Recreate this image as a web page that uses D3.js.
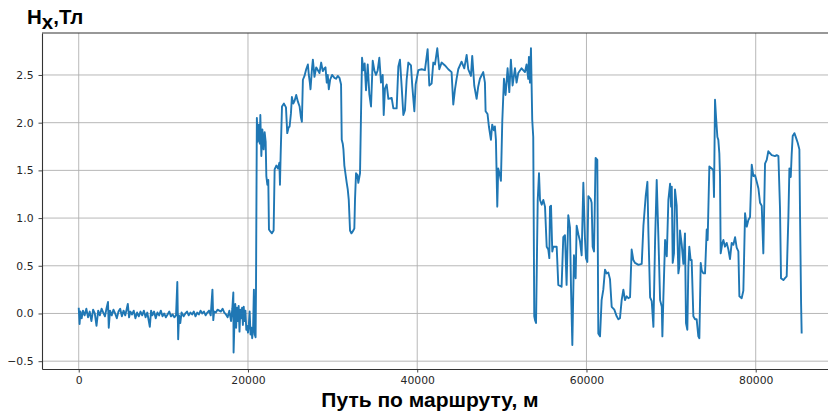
<!DOCTYPE html>
<html><head><meta charset="utf-8">
<script src="https://cdn.jsdelivr.net/npm/d3@7"></script>
<style>body{margin:0;background:#fff;overflow:hidden}</style>
</head><body>
<svg id="chart" width="828" height="414"></svg>
<script>
// ---- data (distance along the route, m ; Hx, Tl) ----
const xTicks = [0, 20000, 40000, 60000, 80000];
const yTicks = [-0.5, 0, 0.5, 1, 1.5, 2, 2.5];
const xDomain = [-4340, 89605];
const yDomain = [-0.582, 2.94];

const flatSection = [
[0,0.06],[100,-0.11],[200,0.02],[350,-0.05],[500,0.03],[700,-0.02],[900,0.05],[1100,-0.04],[1300,0.02],[1500,-0.08],
[1700,0.04],[1900,0.00],[2100,-0.13],[2300,0.03],[2500,-0.02],[2700,0.05],[2900,0.01],[3100,-0.03],[3300,0.06],[3460,0.12],
[3550,-0.15],[3700,0.03],[3900,-0.02],[4100,0.04],[4300,0.00],[4500,-0.05],[4700,0.02],[4900,0.05],[5100,-0.03],[5300,0.03],
[5500,-0.02],[5800,0.10],[5950,-0.04],[6100,0.02],[6300,-0.01],[6500,0.03],[6700,-0.05],[6900,0.01],[7100,-0.03],[7300,0.02],
[7500,-0.02],[7700,0.03],[7900,-0.04],[8100,0.01],[8400,-0.14],[8550,0.03],[8700,-0.02],[8900,0.02],[9100,-0.05],[9300,0.01],
[9500,-0.02],[9700,0.03],[9900,-0.03],[10100,0.00],[10300,-0.04],[10500,-0.01],[10700,0.02],[10900,-0.03],[11100,-0.01],[11300,-0.04],
[11500,-0.02],[11650,0.33],[11750,-0.27],[11850,-0.02],[12000,-0.10],[12150,0.01],[12400,-0.03],[12600,0.00],[12800,0.02],[13000,-0.02],
[13200,0.01],[13400,-0.01],[13600,0.02],[13800,-0.03],[14000,0.01],[14200,-0.01],[14400,0.03],[14600,0.00],[14800,0.02],[15000,-0.02],
[15200,0.01],[15400,0.03],[15600,-0.02],[15800,0.25],[15900,-0.07],[16000,0.02],[16200,0.01],[16400,0.04],[16600,0.03],[16800,0.02],
[17000,0.05],[17200,0.01],[17400,-0.01],[17600,-0.04],[17800,0.03],[18000,-0.08],[18150,0.05],[18270,0.22],[18300,-0.41],[18400,-0.10],
[18500,0.10],[18600,-0.15],[18700,0.06],[18800,-0.08],[18900,0.08],[19000,-0.19],[19100,0.04],[19200,-0.05],[19300,0.06],[19400,-0.12],
[19500,0.07],[19600,-0.08],[19700,0.03],[19800,-0.17],[19900,-0.13],[20000,-0.20],[20100,-0.12],[20200,0.02],[20300,-0.22],[20400,-0.15],
[20500,-0.26],[20600,-0.17],[20700,0.25],[20800,-0.22],[20900,-0.25],[20950,0.28]
];

const highSection = [
[21050,2.05],[21150,1.80],[21270,1.98],[21400,1.78],[21460,2.08],[21580,1.65],[21700,1.93],[21850,1.72],[21970,1.90],[22090,1.80],
[22170,1.44],[22290,1.35],[22400,1.40],[22480,0.88],[22640,0.86],[22830,0.84],[23030,0.87],[23150,1.51],[23350,1.55],[23550,1.52],
[23710,1.58],[23780,1.35],[23860,1.66],[24020,2.17],[24250,2.20],[24490,2.16],[24640,1.89],[24800,1.95],[24920,1.96],[25080,2.10],
[25190,2.27],[25350,2.20],[25510,2.23],[25700,2.29],[25900,2.22],[26100,2.17],[26250,2.06],[26370,2.01],[26490,2.45],[26680,2.49],
[26880,2.56],[27080,2.61],[27190,2.50],[27310,2.42],[27390,2.35],[27550,2.55],[27670,2.66],[27860,2.48],[28060,2.58],[28260,2.55],
[28450,2.52],[28650,2.63],[28840,2.54],[29040,2.57],[29160,2.58],[29310,2.42],[29430,2.50],[29550,2.35],[29710,2.45],[29940,2.50],
[30220,2.47],[30410,2.46],[30610,2.49],[30810,2.47],[31000,2.40],[31080,1.82],[31200,1.78],[31280,1.72],[31390,1.55],[31510,1.47],
[31670,1.37],[31790,1.30],[31910,1.19],[32060,0.87],[32220,0.84],[32380,0.86],[32570,0.89],[32650,1.20],[32770,1.47],[32930,1.45],
[33040,1.37],[33240,1.47],[33360,2.10],[33480,2.68],[33630,2.55],[33790,2.62],[33950,2.34],[34150,2.61],[34340,2.30],[34540,2.17],
[34740,2.65],[34930,2.55],[35130,2.50],[35330,2.55],[35520,2.68],[35720,2.42],[35920,2.50],[36040,2.08],[36190,2.36],[36390,2.40],
[36590,2.25],[36980,2.26],[37180,2.15],[37570,2.15],[37770,2.59],[37960,2.66],[38160,2.38],[38360,2.08],[38550,2.13],[38750,2.45],
[38950,2.63],[39260,2.60],[39420,2.38],[39660,2.12],[39810,2.40],[40130,2.55],[40520,2.56],[40910,2.55],[41230,2.77],[41430,2.39],
[41700,2.41],[41900,2.63],[42100,2.61],[42370,2.78],[42610,2.56],[42880,2.63],[43280,2.60],[43670,2.56],[44060,2.53],[44260,2.19],
[44460,2.35],[44650,2.46],[44850,2.56],[45240,2.64],[45560,2.57],[45840,2.71],[46030,2.56],[46350,2.49],[46500,2.70],[46740,2.39],
[47020,2.25],[47210,2.38],[47410,2.46],[47800,2.53],[48000,2.42],[48080,2.12],[48310,2.09],[48470,1.96],[48710,1.82],[48860,1.98],
[49060,1.92],[49180,1.96],[49300,1.82],[49460,1.12],[49570,1.52],[49770,1.45],[49890,1.39],[50050,2.01],[50250,2.46],[50440,2.29],
[50680,2.57],[50880,2.32],[51070,2.66],[51270,2.39],[51550,2.57],[51740,2.42],[51940,2.52],[52330,2.57],[52730,2.53],[52920,2.61],
[53120,2.46],[53200,2.69],[53320,2.42],[53440,2.78],[53590,2.03],[53710,1.85]
];

const variableSection = [
[53830,-0.03],[53920,-0.07],[54040,-0.10],[54240,1.19],[54390,1.47],[54510,1.19],[54710,1.14],[54900,1.19],[55100,1.12],[55300,0.70],
[55490,0.67],[55610,0.58],[55690,1.12],[55810,1.13],[55960,0.65],[56080,0.70],[56480,0.70],[56670,0.30],[57060,0.28],[57260,0.80],
[57460,0.82],[57650,0.30],[57850,1.03],[58050,0.90],[58170,0.28],[58330,-0.33],[58520,0.61],[58720,0.37],[58840,0.92],[59040,0.83],
[59230,0.76],[59430,0.61],[59630,1.37],[59820,0.79],[59940,0.58],[60100,0.54],[60220,1.23],[60490,1.20],[60610,1.16],[60730,0.70],
[60890,0.65],[61080,1.63],[61280,1.61],[61400,-0.21],[61600,-0.24],[61790,0.14],[61990,0.25],[62190,0.46],[62380,0.42],[62580,0.43],
[62780,0.36],[62980,0.07],[63290,0.04],[63570,-0.03],[63770,-0.06],[63960,-0.05],[64160,0.14],[64360,0.25],[64550,0.14],[64750,0.18],
[64950,0.16],[65150,0.17],[65340,0.67],[65540,0.56],[65740,0.53],[66140,0.51],[66530,0.52],[66730,0.92],[67000,1.23],[67200,1.38],
[67320,0.85],[67520,0.17],[67710,0.13],[67910,-0.14],[68110,0.77],[68300,1.40],[68500,0.80],[68700,0.14],[68900,0.07],[68970,-0.24],
[69090,0.17],[69290,0.77],[69490,0.60],[69680,1.19],[69880,1.36],[70000,1.12],[70080,1.33],[70190,0.53],[70340,0.63],[70460,1.30],
[70660,1.13],[70860,0.42],[70970,0.49],[71050,0.87],[71250,0.73],[71450,0.52],[71640,0.84],[71760,-0.10],[71920,-0.17],[72040,0.49],
[72150,0.70],[72310,0.56],[72430,0.56],[72630,-0.03],[72830,-0.06],[73020,-0.06],[73220,-0.24],[73340,-0.26],[73500,0.53],[73620,0.45],
[73810,0.42],[74010,0.42],[74210,0.88],[74320,0.77],[74520,1.54],[74800,1.52],[74990,1.50],[75070,1.22],[75190,2.24],[75310,2.06],
[75470,1.85],[75580,1.82],[75700,1.68],[75780,1.44],[75860,0.63],[76060,0.74],[76180,0.77],[76370,0.70],[76570,0.74],[76770,0.67],
[76960,0.57],[77160,0.74],[77360,0.72],[77560,0.80],[77750,0.69],[77950,0.65],[78070,0.18],[78340,0.16],[78540,0.24],[78740,1.05],
[78940,0.91],[79130,0.98],[79330,1.01],[79530,1.56],[79720,1.44],[79920,1.45],[80120,1.38],[80320,1.31],[80510,1.16],[80710,1.13],
[80900,0.63],[81100,1.57],[81300,1.61],[81490,1.70],[81890,1.66],[82280,1.65],[82480,1.66],[82680,1.65],[82870,1.10],[82990,0.37],
[83270,0.35],[83460,0.37],[83660,0.39],[83860,1.01],[83980,1.52],[84140,1.43],[84250,1.67],[84370,1.86],[84570,1.89],[84770,1.84],
[84960,1.79],[85160,1.72],[85240,1.01],[85360,0.11],[85430,-0.21]
];

const series = flatSection.concat(highSection, variableSection);

// ---- drawing ----
const svg = d3.select('#chart');
const box = {left: 42, right: 837, top: 33, bottom: 369};
const x = d3.scaleLinear().domain(xDomain).range([box.left, box.right]);
const y = d3.scaleLinear().domain(yDomain).range([box.bottom, box.top]);

svg.append('rect').attr('width', 828).attr('height', 414).attr('fill', '#fff');

const grid = svg.append('g').attr('stroke', '#b0b0b0').attr('stroke-width', 0.9);
grid.selectAll('.gx').data(xTicks).join('line')
  .attr('x1', d => x(d)).attr('x2', d => x(d)).attr('y1', box.top).attr('y2', box.bottom);
grid.selectAll('.gy').data(yTicks).join('line')
  .attr('y1', d => y(d)).attr('y2', d => y(d)).attr('x1', box.left).attr('x2', box.right);

svg.append('path').datum(series)
  .attr('d', d3.line().x(d => x(d[0])).y(d => y(d[1])))
  .attr('fill', 'none').attr('stroke', '#1f77b4').attr('stroke-width', 1.9)
  .attr('stroke-linejoin', 'round');

const fmtY = d3.format('.1f');
const xAxis = svg.append('g').attr('transform', `translate(0,${box.bottom})`)
  .call(d3.axisBottom(x).tickValues(xTicks).tickFormat(d3.format('d')).tickSize(3.5).tickSizeOuter(0).tickPadding(4));
const yAxis = svg.append('g').attr('transform', `translate(${box.left},0)`)
  .call(d3.axisLeft(y).tickValues(yTicks).tickFormat(fmtY).tickSize(3.5).tickSizeOuter(0).tickPadding(5));

[xAxis, yAxis].forEach(g => {
  g.select('.domain').attr('stroke', '#333').attr('stroke-width', 1.1);
  g.selectAll('.tick line').attr('stroke', '#333').attr('stroke-width', 0.9);
  g.selectAll('.tick text').attr('fill', '#262626')
    .style('font-family', '"DejaVu Sans", sans-serif').style('font-size', '10.8px');
});

// top & right spines
svg.append('line').attr('x1', box.left).attr('x2', box.right).attr('y1', box.top).attr('y2', box.top)
  .attr('stroke', '#333').attr('stroke-width', 1.1);
svg.append('line').attr('x1', box.right).attr('x2', box.right).attr('y1', box.top).attr('y2', box.bottom)
  .attr('stroke', '#333').attr('stroke-width', 1.1);

// title (Hx, Тл)
const title = svg.append('text').attr('x', 27).attr('y', 24)
  .style('font-family', '"Liberation Sans", Arial, sans-serif').style('font-weight', 'bold')
  .style('font-size', '20.5px').attr('fill', '#000');
title.append('tspan').text('H');
title.append('tspan').attr('dy', 4.5).text('x');
title.append('tspan').attr('dy', -4.5).text(',Тл');

// x axis label
svg.append('text').attr('x', 430).attr('y', 407).attr('text-anchor', 'middle')
  .style('font-family', '"Liberation Sans", Arial, sans-serif').style('font-weight', 'bold')
  .style('font-size', '21px').attr('fill', '#000')
  .text('Путь по маршруту, м');
</script>
</body></html>
